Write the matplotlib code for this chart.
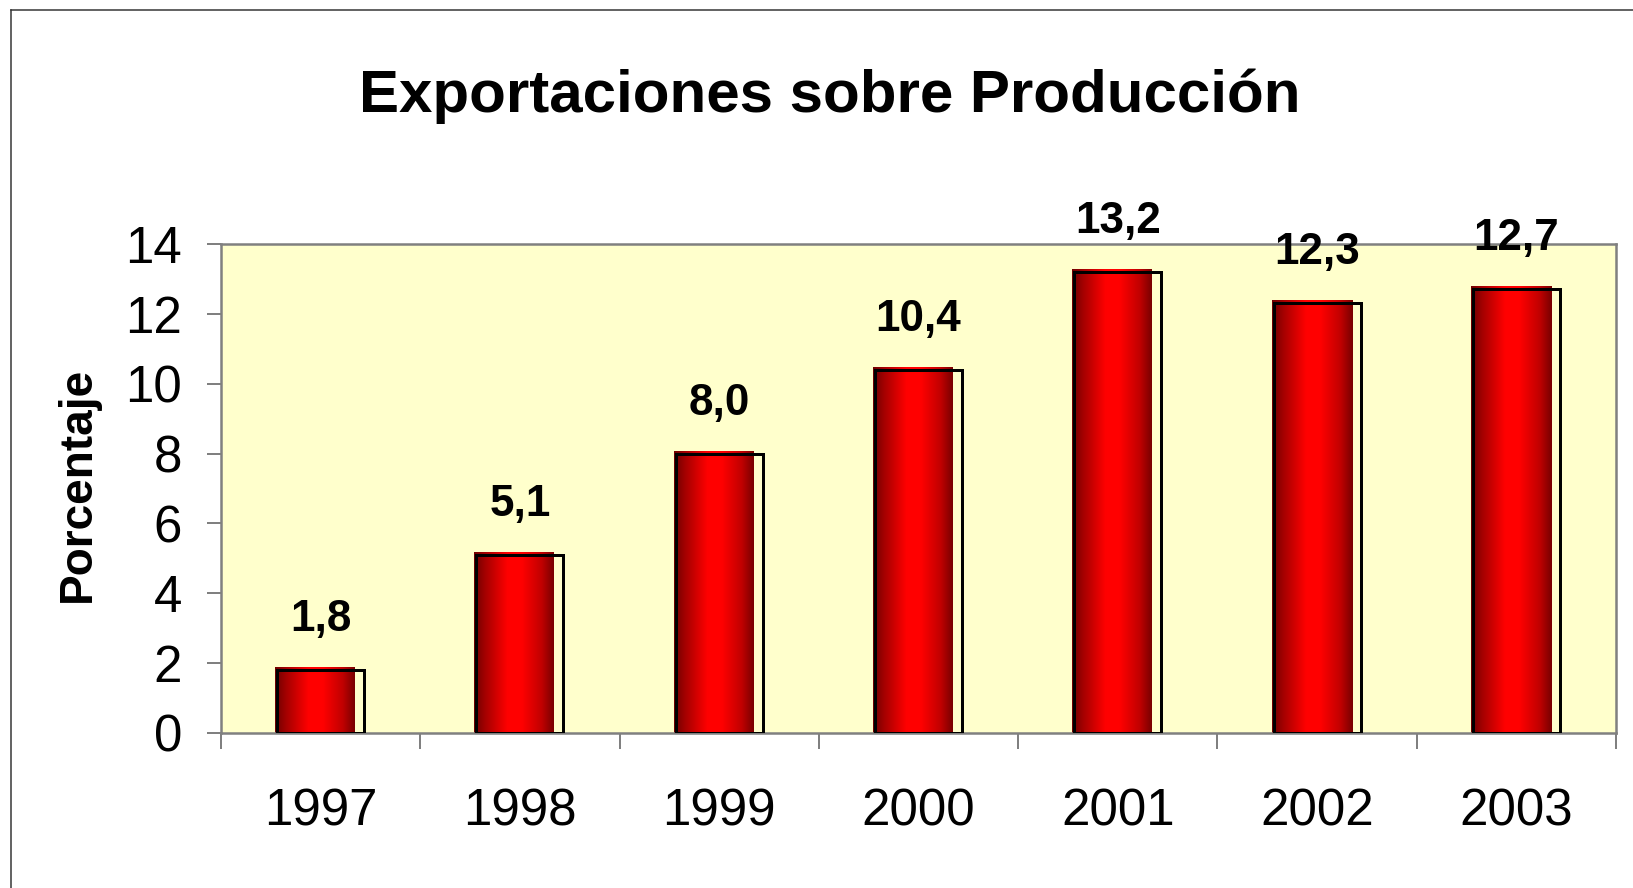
import numpy as np
import matplotlib
matplotlib.use("Agg")
import matplotlib.pyplot as plt
from matplotlib.colors import LinearSegmentedColormap
from matplotlib.lines import Line2D
from matplotlib.patches import Rectangle

years = ["1997", "1998", "1999", "2000", "2001", "2002", "2003"]
values = [1.8, 5.1, 8.0, 10.4, 13.2, 12.3, 12.7]
labels = ["1,8", "5,1", "8,0", "10,4", "13,2", "12,3", "12,7"]
title = "Exportaciones sobre Producción"
ylabel = "Porcentaje"

plt.rcParams['font.family'] = ['Liberation Sans', 'DejaVu Sans']

W, H, DPI = 1633, 888, 72
fig = plt.figure(figsize=(W / DPI, H / DPI), dpi=DPI)
fig.patch.set_facecolor("white")

# outer frame (left and top visible)
fig.add_artist(Line2D([11 / W, 11 / W], [0, 1 - 10 / H], transform=fig.transFigure,
                      color="#333333", lw=1.5))
fig.add_artist(Line2D([11 / W, 1], [1 - 10 / H, 1 - 10 / H], transform=fig.transFigure,
                      color="#333333", lw=1.5))

left, right, top, bottom = 221, 1616, 244, 733
ax = fig.add_axes([left / W, 1 - bottom / H, (right - left) / W, (bottom - top) / H])
ax.set_facecolor("#FFFFCC")
for s in ax.spines.values():
    s.set_color("#808080")
    s.set_linewidth(2.5)

n = len(years)
ax.set_xlim(-0.5, n - 0.5)
ax.set_ylim(0, 14)

cat_px = (right - left) / n
unit_px = (bottom - top) / 14.0
bw = 87 / cat_px

cmap = LinearSegmentedColormap.from_list(
    "barred",
    [(0.0, "#6e0000"), (0.15, "#a80000"), (0.42, "#ff0000"), (0.6, "#ff0000"),
     (0.85, "#c00000"), (1.0, "#780000")])
grad = np.linspace(0, 1, 256).reshape(1, -1)

for i, v in enumerate(values):
    l = i - bw / 2 - 2 / cat_px
    r = i + bw / 2 - 9 / cat_px
    t = v + 2.5 / unit_px
    ax.imshow(grad, extent=[l, r, 0, t], aspect="auto", cmap=cmap,
              zorder=2, interpolation="bilinear")
    ax.add_patch(Rectangle((i - bw / 2, 0), bw, v, fill=False,
                           edgecolor="black", lw=3, zorder=3))
    ax.annotate(labels[i], (i, v), xytext=(0, 39), textcoords="offset points",
                ha="center", va="baseline", fontsize=44, fontweight="bold",
                annotation_clip=False, zorder=5)

ax.set_xlim(-0.5, n - 0.5)
ax.set_ylim(0, 14)

ax.set_yticks(np.arange(0, 15, 2))
ax.set_yticklabels([str(k) for k in range(0, 15, 2)], fontsize=51)
ax.tick_params(axis="y", length=14, width=2, color="#808080", pad=25)

ax.set_xticks(np.arange(-0.5, n, 1.0))
ax.set_xticklabels([""] * (n + 1))
ax.tick_params(axis="x", which="major", length=16, width=2, color="#808080")
ax.set_xticks(np.arange(n), minor=True)
ax.set_xticklabels(years, minor=True, fontsize=51)
ax.tick_params(axis="x", which="minor", length=0, pad=55)

ax.set_ylabel(ylabel, fontsize=46, fontweight="bold")
ax.yaxis.set_label_coords(-(221 - 78) / (right - left), (bottom - 484) / (bottom - top))
ax.yaxis.label.set_va("center")

fig.text(830 / W, 1 - 112 / H, title, ha="center", va="baseline",
         fontsize=60, fontweight="bold")

fig.savefig("out.png", dpi=DPI, facecolor="white")
